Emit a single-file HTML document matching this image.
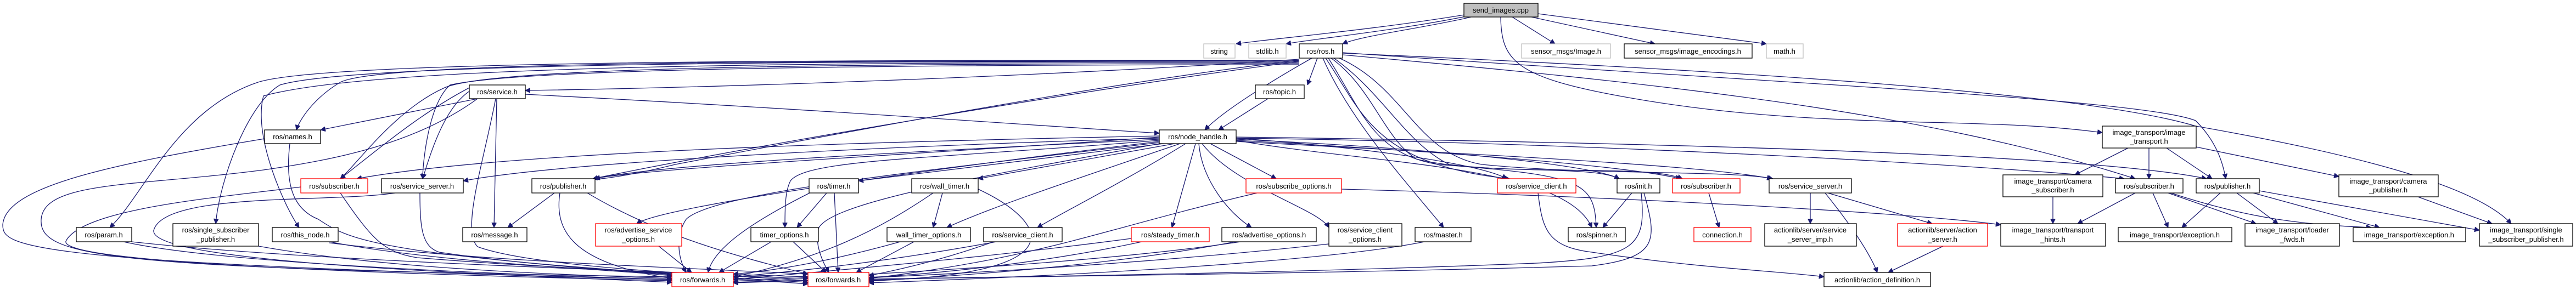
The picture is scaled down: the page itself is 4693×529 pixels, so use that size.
<!DOCTYPE html>
<html><head><meta charset="utf-8"><style>
html,body{margin:0;padding:0;background:#fff;width:4693px;height:529px;overflow:hidden}
svg{display:block}
text{font-family:"Liberation Sans",sans-serif;font-size:13px;fill:#000}
.e{fill:none;stroke:#191970;stroke-width:1.3}
.n{fill:#fff;stroke:#000;stroke-width:1.3}
.r{fill:#fff;stroke:#ff0000;stroke-width:1.3}
.g{fill:#fff;stroke:#bfbfbf;stroke-width:1.3}
</style></head><body>
<svg width="4693" height="529" viewBox="0 0 4693 529" xmlns="http://www.w3.org/2000/svg">
<defs><marker id="a" viewBox="0 0 10 10" refX="10" refY="5" markerWidth="9" markerHeight="9" orient="auto" markerUnits="userSpaceOnUse"><path d="M0,0 L10,5 L0,10 z" fill="#191970" stroke="#191970"/></marker></defs>
<g class="e" marker-end="url(#a)">
<!-- send_images -->
<path d="M2680,25 C2500,55 2320,70 2252,80" marker-end="url(#a)"/>
<path d="M2680,28 C2550,55 2400,70 2343,80" marker-end="url(#a)"/>
<path d="M2680,31 C2600,50 2480,65 2446,80" marker-end="url(#a)"/>
<path d="M2755,31 L2833,80" marker-end="url(#a)"/>
<path d="M2790,31 L3015,80" marker-end="url(#a)"/>
<path d="M2802,25 C2950,45 3150,70 3218,80" marker-end="url(#a)"/>
<path d="M2734,31 C2735,110 2760,140 2950,175 C3300,240 3600,210 3830,242" marker-end="url(#a)"/>
<!-- ros.h -->
<path d="M2400,106 L2382,155" marker-end="url(#a)"/>
<path d="M2390,106 C2330,140 2230,200 2195,237" marker-end="url(#a)"/>
<path d="M2367,108 C1900,140 1300,160 957,165" marker-end="url(#a)"/>
<path d="M2367,110 C1500,112 700,110 620,150 C570,180 545,220 540,237" marker-end="url(#a)"/>
<path d="M2367,110 C1600,110 600,108 470,150 C320,200 260,360 200,415" marker-end="url(#a)"/>
<path d="M2367,112 C1600,112 650,112 510,155 C450,190 400,330 393,408" marker-end="url(#a)"/>
<path d="M2367,114 C1600,114 700,114 480,175 C460,250 520,380 545,415" marker-end="url(#a)"/>
<path d="M2367,116 C1600,116 900,120 810,160 C720,200 650,300 620,326" marker-end="url(#a)"/>
<path d="M2367,118 C1600,118 950,125 820,155 C780,190 770,300 770,326" marker-end="url(#a)"/>
<path d="M2367,112 C2000,160 1400,260 1080,326" marker-end="url(#a)"/>
<path d="M2367,110 C2100,140 1700,210 1230,300 C1150,320 1080,330 1075,326" marker-end="url(#a)"/>
<path d="M2415,106 C2480,200 2500,300 2750,326" marker-end="url(#a)"/>
<path d="M2425,106 C2500,160 2520,250 2580,290 C2700,320 2900,300 2950,326" marker-end="url(#a)"/>
<path d="M2430,106 C2520,170 2560,260 2640,300 C2800,320 3000,300 3065,326" marker-end="url(#a)"/>
<path d="M2440,106 C2560,160 2580,280 2700,300 C2900,320 3150,310 3230,326" marker-end="url(#a)"/>
<path d="M2410,106 C2460,220 2560,330 2630,415" marker-end="url(#a)"/>
<path d="M2420,106 C2480,200 2500,280 2620,300 C2880,320 2905,330 2908,415" marker-end="url(#a)"/>
<path d="M2446,100 C3000,150 3500,200 3890,326" marker-end="url(#a)"/>
<path d="M2446,96 C3200,150 3900,180 4000,220 C4040,260 4050,300 4055,326" marker-end="url(#a)"/>
<path d="M2446,97 C3200,130 3800,170 4000,230 C4400,300 4530,360 4575,408" marker-end="url(#a)"/>
<!-- topic -->
<path d="M2310,180 L2220,237" marker-end="url(#a)"/>
<!-- service.h -->
<path d="M957,172 C1500,200 1900,230 2112,243" marker-end="url(#a)"/>
<path d="M870,180 L584,237" marker-end="url(#a)"/>
<path d="M905,180 L900,415" marker-end="url(#a)"/>
<path d="M870,180 C760,260 620,290 480,310 C250,340 80,330 75,400 C70,470 200,490 1224,505" marker-end="url(#a)"/>
<path d="M903,180 C880,300 840,420 870,450 C950,480 1200,500 1472,508" marker-end="url(#a)"/>
<path d="M880,155 C820,170 790,260 770,326" marker-end="url(#a)"/>
<path d="M855,160 C760,210 680,280 620,326" marker-end="url(#a)"/>
<!-- names -->
<path d="M482,253 C200,300 10,340 5,410 C5,450 30,480 1224,510" marker-end="url(#a)"/>
<path d="M528,262 C520,330 530,380 580,400 C640,440 690,470 1472,515" marker-end="url(#a)"/>
<!-- node_handle -->
<path d="M2112,248 C1500,260 900,280 650,326" marker-end="url(#a)"/>
<path d="M2112,252 C1500,270 1000,300 844,330" marker-end="url(#a)"/>
<path d="M2112,254 C1600,280 1200,300 1084,326" marker-end="url(#a)"/>
<path d="M2112,250 C1700,280 1200,305 1080,326" marker-end="url(#a)"/>
<path d="M2120,262 L1564,330" marker-end="url(#a)"/>
<path d="M2140,262 L1782,326" marker-end="url(#a)"/>
<path d="M2112,256 C1700,290 1470,290 1440,330 C1430,350 1430,380 1430,415" marker-end="url(#a)"/>
<path d="M2150,262 C1950,330 1800,380 1725,415" marker-end="url(#a)"/>
<path d="M2160,262 C2050,330 1950,380 1890,415" marker-end="url(#a)"/>
<path d="M2178,262 L2135,415" marker-end="url(#a)"/>
<path d="M2184,262 C2190,330 2240,390 2280,415" marker-end="url(#a)"/>
<path d="M2205,262 L2325,326" marker-end="url(#a)"/>
<path d="M2112,258 C1600,320 1200,380 1160,408" marker-end="url(#a)"/>
<path d="M2190,262 C2250,340 2400,380 2421,415" marker-end="url(#a)"/>
<path d="M2252,252 C2500,270 2700,300 2745,326" marker-end="url(#a)"/>
<path d="M2252,254 C2600,270 2900,300 2950,326" marker-end="url(#a)"/>
<path d="M2252,256 C2600,275 2950,300 3062,326" marker-end="url(#a)"/>
<path d="M2252,258 C2650,280 3100,300 3228,326" marker-end="url(#a)"/>
<path d="M2252,252 C2900,260 3600,300 3870,326" marker-end="url(#a)"/>
<path d="M2252,250 C3000,260 3800,280 4020,326" marker-end="url(#a)"/>
<path d="M2252,256 C2500,300 2850,300 2900,415" marker-end="url(#a)"/>
<path d="M2112,260 C1700,310 1300,350 1250,400 C1230,430 1235,470 1250,497" marker-end="url(#a)"/>
<path d="M2112,262 C1800,320 1500,370 1490,420 C1485,450 1500,480 1510,497" marker-end="url(#a)"/>
<!-- row5 to row6/7 -->
<path d="M548,341 C400,360 150,380 120,440 C110,480 700,500 1224,512" marker-end="url(#a)"/>
<path d="M620,352 C680,440 700,460 760,470 C1000,490 1300,500 1472,512" marker-end="url(#a)"/>
<path d="M720,352 C600,370 300,350 280,420 C270,480 900,500 1224,515" marker-end="url(#a)"/>
<path d="M765,352 C765,420 770,450 800,460 C1000,490 1300,505 1472,518" marker-end="url(#a)"/>
<path d="M1010,352 L925,415" marker-end="url(#a)"/>
<path d="M1020,352 C1010,420 1040,480 1224,508" marker-end="url(#a)"/>
<path d="M1070,352 C1200,430 1350,470 1472,500" marker-end="url(#a)"/>
<path d="M1475,352 C1380,400 1300,450 1290,497" marker-end="url(#a)"/>
<path d="M1506,352 L1452,415" marker-end="url(#a)"/>
<path d="M1520,352 L1527,497" marker-end="url(#a)"/>
<path d="M1700,352 C1600,420 1500,470 1336,505" marker-end="url(#a)"/>
<path d="M1717,352 L1700,415" marker-end="url(#a)"/>
<path d="M1782,345 C1900,400 1980,500 1583,512" marker-end="url(#a)"/>
<path d="M2290,352 C2000,420 1900,470 1583,508" marker-end="url(#a)"/>
<path d="M2444,345 C3000,360 3500,390 3645,410" marker-end="url(#a)"/>
<path d="M2802,352 C2810,420 2820,450 2900,460 C3100,490 3250,495 3323,505" marker-end="url(#a)"/>
<path d="M2973,352 L2920,415" marker-end="url(#a)"/>
<path d="M2990,352 C3000,450 2980,470 2800,480 C2300,500 1800,505 1583,510" marker-end="url(#a)"/>
<path d="M2995,352 C3020,440 3020,470 2900,485 C2200,505 1600,505 1336,515" marker-end="url(#a)"/>
<path d="M3113,352 L3132,415" marker-end="url(#a)"/>
<path d="M3298,352 L3298,408" marker-end="url(#a)"/>
<path d="M3325,352 C3380,420 3410,470 3420,497" marker-end="url(#a)"/>
<path d="M3330,352 L3520,408" marker-end="url(#a)"/>
<path d="M3540,449 L3440,497" marker-end="url(#a)"/>
<path d="M3740,359 L3740,408" marker-end="url(#a)"/>
<path d="M3890,352 L3785,408" marker-end="url(#a)"/>
<path d="M3922,352 L3950,415" marker-end="url(#a)"/>
<path d="M3950,352 L4110,408" marker-end="url(#a)"/>
<path d="M3955,352 C4100,400 4200,410 4320,415" marker-end="url(#a)"/>
<path d="M4045,352 L3975,415" marker-end="url(#a)"/>
<path d="M4075,352 L4150,408" marker-end="url(#a)"/>
<path d="M4105,352 L4335,415" marker-end="url(#a)"/>
<path d="M4116,348 L4517,420" marker-end="url(#a)"/>
<path d="M4405,359 L4540,408" marker-end="url(#a)"/>
<path d="M3877,270 L3780,319" marker-end="url(#a)"/>
<path d="M3915,270 L3915,326" marker-end="url(#a)"/>
<path d="M3947,270 L4030,326" marker-end="url(#a)"/>
<path d="M4001,268 L4261,322" marker-end="url(#a)"/>
<!-- row6 to forwards -->
<path d="M225,441 C400,480 900,500 1224,510" marker-end="url(#a)"/>
<path d="M240,441 C500,470 1000,490 1472,505" marker-end="url(#a)"/>
<path d="M471,449 C700,490 1000,500 1224,508" marker-end="url(#a)"/>
<path d="M600,441 C800,480 1100,490 1224,503" marker-end="url(#a)"/>
<path d="M600,443 C900,480 1300,490 1472,500" marker-end="url(#a)"/>
<path d="M1200,449 L1260,497" marker-end="url(#a)"/>
<path d="M1405,441 L1310,497" marker-end="url(#a)"/>
<path d="M1445,441 L1505,497" marker-end="url(#a)"/>
<path d="M1640,441 C1500,480 1400,495 1336,500" marker-end="url(#a)"/>
<path d="M1665,441 L1560,497" marker-end="url(#a)"/>
<path d="M1815,441 C1600,480 1450,495 1336,505" marker-end="url(#a)"/>
<path d="M1810,441 C1700,480 1620,495 1583,503" marker-end="url(#a)"/>
<path d="M2061,435 C1800,470 1500,495 1336,510" marker-end="url(#a)"/>
<path d="M2080,441 C1900,480 1700,500 1583,506" marker-end="url(#a)"/>
<path d="M2260,441 C2000,480 1600,500 1336,513" marker-end="url(#a)"/>
<path d="M2250,441 C2050,480 1800,500 1583,513" marker-end="url(#a)"/>
<path d="M2421,445 C2100,480 1700,505 1336,516" marker-end="url(#a)"/>
<path d="M2595,441 C2400,480 1900,505 1583,516" marker-end="url(#a)"/>
</g>
<!-- nodes -->
<g>
<rect class="n" x="2667" y="6" width="135" height="25" style="fill:#bfbfbf"/><text x="2734" y="23" text-anchor="middle">send_images.cpp</text>
<rect class="g" x="2193" y="80" width="57" height="26"/><text x="2221" y="98" text-anchor="middle">string</text>
<rect class="g" x="2275" y="80" width="68" height="26"/><text x="2309" y="98" text-anchor="middle">stdlib.h</text>
<rect class="n" x="2367" y="80" width="79" height="26"/><text x="2406" y="98" text-anchor="middle">ros/ros.h</text>
<rect class="g" x="2772" y="80" width="162" height="26"/><text x="2853" y="98" text-anchor="middle">sensor_msgs/Image.h</text>
<rect class="n" x="2959" y="80" width="233" height="26"/><text x="3075" y="98" text-anchor="middle">sensor_msgs/image_encodings.h</text>
<rect class="g" x="3218" y="80" width="67" height="26"/><text x="3251" y="98" text-anchor="middle">math.h</text>
<rect class="n" x="855" y="155" width="102" height="25"/><text x="906" y="172" text-anchor="middle">ros/service.h</text>
<rect class="n" x="2287" y="155" width="89" height="25"/><text x="2331" y="172" text-anchor="middle">ros/topic.h</text>
<rect class="n" x="482" y="237" width="102" height="25"/><text x="533" y="254" text-anchor="middle">ros/names.h</text>
<rect class="n" x="2112" y="237" width="140" height="25"/><text x="2182" y="254" text-anchor="middle">ros/node_handle.h</text>
<rect class="n" x="3830" y="230" width="171" height="40"/><text x="3915" y="246" text-anchor="middle">image_transport/image</text><text x="3915" y="262" text-anchor="middle">_transport.h</text>
<!-- row5 -->
<rect class="r" x="548" y="326" width="122" height="26"/><text x="609" y="344" text-anchor="middle">ros/subscriber.h</text>
<rect class="n" x="695" y="326" width="149" height="26"/><text x="769" y="344" text-anchor="middle">ros/service_server.h</text>
<rect class="n" x="969" y="326" width="115" height="26"/><text x="1026" y="344" text-anchor="middle">ros/publisher.h</text>
<rect class="n" x="1474" y="326" width="90" height="26"/><text x="1519" y="344" text-anchor="middle">ros/timer.h</text>
<rect class="n" x="1661" y="326" width="121" height="26"/><text x="1721" y="344" text-anchor="middle">ros/wall_timer.h</text>
<rect class="r" x="2270" y="326" width="174" height="26"/><text x="2357" y="344" text-anchor="middle">ros/subscribe_options.h</text>
<rect class="r" x="2728" y="326" width="143" height="26"/><text x="2799" y="344" text-anchor="middle">ros/service_client.h</text>
<rect class="n" x="2946" y="326" width="78" height="26"/><text x="2985" y="344" text-anchor="middle">ros/init.h</text>
<rect class="r" x="3047" y="326" width="123" height="26"/><text x="3108" y="344" text-anchor="middle">ros/subscriber.h</text>
<rect class="n" x="3223" y="326" width="150" height="26"/><text x="3298" y="344" text-anchor="middle">ros/service_server.h</text>
<rect class="n" x="3649" y="319" width="182" height="40"/><text x="3740" y="335" text-anchor="middle">image_transport/camera</text><text x="3740" y="351" text-anchor="middle">_subscriber.h</text>
<rect class="n" x="3854" y="326" width="123" height="26"/><text x="3915" y="344" text-anchor="middle">ros/subscriber.h</text>
<rect class="n" x="4001" y="326" width="115" height="26"/><text x="4058" y="344" text-anchor="middle">ros/publisher.h</text>
<rect class="n" x="4261" y="319" width="181" height="40"/><text x="4351" y="335" text-anchor="middle">image_transport/camera</text><text x="4351" y="351" text-anchor="middle">_publisher.h</text>
<!-- row6 -->
<rect class="n" x="139" y="415" width="101" height="26"/><text x="189" y="433" text-anchor="middle">ros/param.h</text>
<rect class="n" x="315" y="408" width="156" height="41"/><text x="393" y="424" text-anchor="middle">ros/single_subscriber</text><text x="393" y="441" text-anchor="middle">_publisher.h</text>
<rect class="n" x="496" y="415" width="120" height="26"/><text x="556" y="433" text-anchor="middle">ros/this_node.h</text>
<rect class="n" x="843" y="415" width="117" height="26"/><text x="901" y="433" text-anchor="middle">ros/message.h</text>
<rect class="r" x="1085" y="408" width="157" height="41"/><text x="1163" y="424" text-anchor="middle">ros/advertise_service</text><text x="1163" y="441" text-anchor="middle">_options.h</text>
<rect class="n" x="1368" y="415" width="123" height="26"/><text x="1429" y="433" text-anchor="middle">timer_options.h</text>
<rect class="n" x="1616" y="415" width="152" height="26"/><text x="1692" y="433" text-anchor="middle">wall_timer_options.h</text>
<rect class="n" x="1792" y="415" width="143" height="26"/><text x="1863" y="433" text-anchor="middle">ros/service_client.h</text>
<rect class="r" x="2061" y="415" width="142" height="26"/><text x="2132" y="433" text-anchor="middle">ros/steady_timer.h</text>
<rect class="n" x="2226" y="415" width="172" height="26"/><text x="2312" y="433" text-anchor="middle">ros/advertise_options.h</text>
<rect class="n" x="2421" y="408" width="133" height="41"/><text x="2487" y="424" text-anchor="middle">ros/service_client</text><text x="2487" y="441" text-anchor="middle">_options.h</text>
<rect class="n" x="2578" y="415" width="102" height="26"/><text x="2629" y="433" text-anchor="middle">ros/master.h</text>
<rect class="n" x="2857" y="415" width="104" height="26"/><text x="2909" y="433" text-anchor="middle">ros/spinner.h</text>
<rect class="r" x="3086" y="415" width="104" height="26"/><text x="3138" y="433" text-anchor="middle">connection.h</text>
<rect class="n" x="3215" y="408" width="167" height="41"/><text x="3298" y="424" text-anchor="middle">actionlib/server/service</text><text x="3298" y="441" text-anchor="middle">_server_imp.h</text>
<rect class="r" x="3457" y="408" width="164" height="41"/><text x="3539" y="424" text-anchor="middle">actionlib/server/action</text><text x="3539" y="441" text-anchor="middle">_server.h</text>
<rect class="n" x="3645" y="408" width="191" height="41"/><text x="3740" y="424" text-anchor="middle">image_transport/transport</text><text x="3740" y="441" text-anchor="middle">_hints.h</text>
<rect class="n" x="3859" y="415" width="207" height="26"/><text x="3962" y="433" text-anchor="middle">image_transport/exception.h</text>
<rect class="n" x="4090" y="408" width="172" height="41"/><text x="4176" y="424" text-anchor="middle">image_transport/loader</text><text x="4176" y="441" text-anchor="middle">_fwds.h</text>
<rect class="n" x="4287" y="415" width="205" height="26"/><text x="4389" y="433" text-anchor="middle">image_transport/exception.h</text>
<rect class="n" x="4517" y="408" width="170" height="41"/><text x="4602" y="424" text-anchor="middle">image_transport/single</text><text x="4602" y="441" text-anchor="middle">_subscriber_publisher.h</text>
<!-- row7 -->
<rect class="r" x="1224" y="497" width="112" height="26"/><text x="1280" y="515" text-anchor="middle">ros/forwards.h</text>
<rect class="r" x="1472" y="497" width="111" height="26"/><text x="1527" y="515" text-anchor="middle">ros/forwards.h</text>
<rect class="n" x="3323" y="497" width="194" height="26"/><text x="3420" y="515" text-anchor="middle">actionlib/action_definition.h</text>
</g>
</svg>
</body></html>
